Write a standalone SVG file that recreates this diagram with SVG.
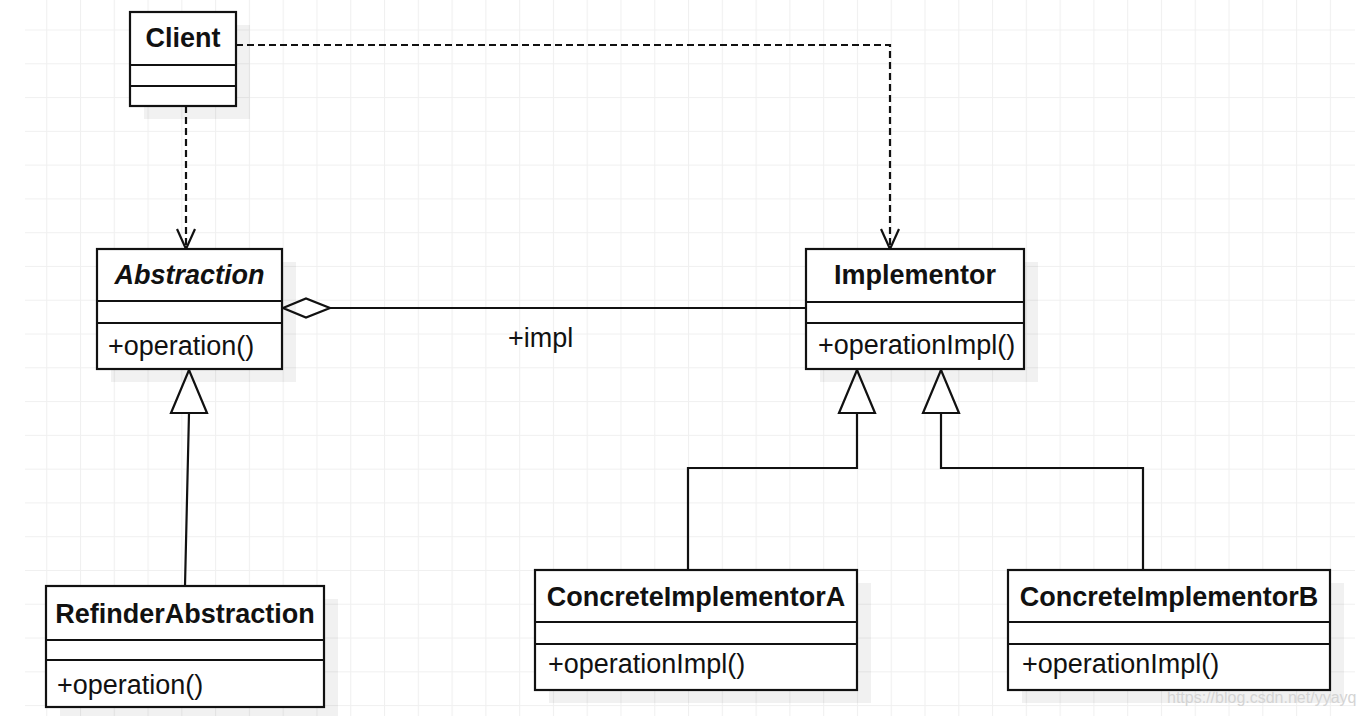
<svg xmlns="http://www.w3.org/2000/svg" width="1362" height="716" viewBox="0 0 1362 716">
<style>
.box{fill:#fff;stroke:#111;stroke-width:2.2}
.sh{fill:#000;opacity:0.055}
.sep{stroke:#111;stroke-width:2.2}
.name{font-family:"Liberation Sans",Arial,sans-serif;font-size:27px;font-weight:bold;fill:#111;text-anchor:middle}
.mem{font-family:"Liberation Sans",Arial,sans-serif;font-size:27px;fill:#111}
.ln{fill:none;stroke:#111;stroke-width:2.2}
.dash{fill:none;stroke:#111;stroke-width:2.2;stroke-dasharray:7 4}
</style>
<defs>
<pattern id="grid" patternUnits="userSpaceOnUse" x="46.2" y="29.5" width="33.78" height="33.78">
<path d="M0.5,0 V33.78 M0,0.5 H33.78" stroke="#f0f0f0" stroke-width="1.2" fill="none"/>
</pattern>
<marker id="open" markerUnits="userSpaceOnUse" viewBox="0 0 22 20" refX="21" refY="10" markerWidth="22" markerHeight="20" orient="auto">
<path d="M1,1 L21,10 L1,19" fill="none" stroke="#111" stroke-width="2.2"/>
</marker>
<marker id="tri" markerUnits="userSpaceOnUse" viewBox="0 0 46 40" refX="45" refY="20" markerWidth="46" markerHeight="40" orient="auto">
<path d="M2,2 L45,20 L2,38 Z" fill="#fff" stroke="#111" stroke-width="2.2" stroke-linejoin="miter"/>
</marker>
</defs>
<rect width="1362" height="716" fill="#fff"/>
<rect x="25" y="0" width="1330" height="716" fill="url(#grid)"/>

<g id="connectors">
<path class="dash" d="M236,45 H890 V249" marker-end="url(#open)"/>
<path class="dash" d="M186,106 V249" marker-end="url(#open)"/>
<path class="ln" d="M330,308 H806"/>
<polygon points="283,308 306,298.5 330,308 306,317.5" fill="#fff" stroke="#111" stroke-width="2.2"/>
<text class="mem" x="508" y="347">+impl</text>
<path class="ln" d="M185,586 L189,413 L189,370" marker-end="url(#tri)"/>
<path class="ln" d="M688,570 V468 H857 V370" marker-end="url(#tri)"/>
<path class="ln" d="M1143,570 V468 H941 V370" marker-end="url(#tri)"/>
</g>

<g id="client">
<rect class="sh" x="144" y="25" width="106" height="94"/>
<rect class="box" x="130" y="12" width="106" height="94"/>
<line class="sep" x1="130" y1="65" x2="236" y2="65"/>
<line class="sep" x1="130" y1="86" x2="236" y2="86"/>
<text class="name" x="183" y="47">Client</text>
</g>

<g id="abstraction">
<rect class="sh" x="111" y="262" width="185" height="120"/>
<rect class="box" x="97" y="249" width="185" height="120"/>
<line class="sep" x1="97" y1="301" x2="282" y2="301"/>
<line class="sep" x1="97" y1="323" x2="282" y2="323"/>
<text class="name" x="189.5" y="284" font-style="italic">Abstraction</text>
<text class="mem" x="108" y="355">+operation()</text>
</g>

<g id="implementor">
<rect class="sh" x="820" y="262" width="218" height="120"/>
<rect class="box" x="806" y="249" width="218" height="120"/>
<line class="sep" x1="806" y1="302" x2="1024" y2="302"/>
<line class="sep" x1="806" y1="323" x2="1024" y2="323"/>
<text class="name" x="915" y="284">Implementor</text>
<text class="mem" x="818" y="354">+operationImpl()</text>
</g>

<g id="refinder">
<rect class="sh" x="60" y="599" width="278" height="121"/>
<rect class="box" x="46" y="586" width="278" height="121"/>
<line class="sep" x1="46" y1="640" x2="324" y2="640"/>
<line class="sep" x1="46" y1="660" x2="324" y2="660"/>
<text class="name" x="185" y="623">RefinderAbstraction</text>
<text class="mem" x="57" y="694">+operation()</text>
</g>

<g id="concreteA">
<rect class="sh" x="549" y="583" width="322" height="120"/>
<rect class="box" x="535" y="570" width="322" height="120"/>
<line class="sep" x1="535" y1="622" x2="857" y2="622"/>
<line class="sep" x1="535" y1="644" x2="857" y2="644"/>
<text class="name" x="696" y="606">ConcreteImplementorA</text>
<text class="mem" x="548" y="673">+operationImpl()</text>
</g>

<g id="concreteB">
<rect class="sh" x="1022" y="583" width="322" height="120"/>
<rect class="box" x="1008" y="570" width="322" height="120"/>
<line class="sep" x1="1008" y1="622" x2="1330" y2="622"/>
<line class="sep" x1="1008" y1="644" x2="1330" y2="644"/>
<text class="name" x="1169" y="606">ConcreteImplementorB</text>
<text class="mem" x="1022" y="673">+operationImpl()</text>
</g>

<text x="1167" y="703" font-family="'Liberation Sans',Arial,sans-serif" font-size="16" fill="#d4d4d4">https://blog.csdn.net/yyayq</text>
</svg>
